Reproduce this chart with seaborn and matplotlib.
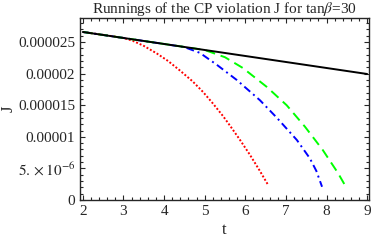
import numpy as np
import pandas as pd
import matplotlib
matplotlib.use("Agg")
import matplotlib.pyplot as plt
from matplotlib.ticker import AutoMinorLocator
import seaborn as sns

# values (J in units of 1e-5)
t_black = [2.0, 3.0, 4.0, 5.0, 6.0, 7.0, 8.0, 9.0]
J_black = [2.66, 2.565, 2.47, 2.375, 2.28, 2.185, 2.09, 1.995]

t_red = [2.0, 2.6, 3.0, 3.23, 3.5, 3.82, 4.1, 4.39, 4.7, 4.96, 5.2, 5.45, 5.62, 5.85, 6.11, 6.35, 6.56]
J_red = [2.66, 2.605, 2.565, 2.52, 2.44, 2.32, 2.20, 2.05, 1.88, 1.71, 1.53, 1.33, 1.18, 0.97, 0.72, 0.47, 0.24]

t_blue = [2.0, 3.0, 4.0, 4.5, 4.88, 5.3, 5.79, 6.36, 6.78, 7.27, 7.59, 7.75, 7.89]
J_blue = [2.66, 2.565, 2.47, 2.42, 2.33, 2.14, 1.90, 1.58, 1.30, 0.95, 0.66, 0.46, 0.21]

t_green = [2.0, 3.0, 4.0, 5.0, 5.37, 5.5, 5.94, 6.53, 7.02, 7.47, 7.91, 8.28, 8.45]
J_green = [2.66, 2.565, 2.47, 2.375, 2.29, 2.26, 2.09, 1.79, 1.50, 1.16, 0.79, 0.43, 0.24]

yticks = [0, 5e-6, 1e-5, 1.5e-5, 2e-5, 2.5e-5]
ytick_labels = ["0", r"$5.\times10^{-6}$", "0.00001", "0.000015", "0.00002", "0.000025"]
xticks = [2, 3, 4, 5, 6, 7, 8, 9]

sns.set_style("ticks")
plt.rcParams["font.family"] = ["Liberation Serif", "DejaVu Serif"]
plt.rcParams["mathtext.fontset"] = "stix"

rows = []
for name, ts, js in [("red", t_red, J_red), ("blue", t_blue, J_blue),
                     ("green", t_green, J_green), ("black", t_black, J_black)]:
    for t, j in zip(ts, js):
        rows.append({"t": t, "J": j * 1e-5, "curve": name})
df = pd.DataFrame(rows)

fig = plt.figure(figsize=(3.74, 2.41), dpi=100)
ax = fig.add_axes([0.214, 0.170, 0.773, 0.755])

palette = {"red": "#ff0000", "blue": "#0000ff", "green": "#00ff00", "black": "black"}
dashes = {"red": (1, 1), "blue": (4, 2, 1, 2), "green": (5, 3), "black": ""}
sns.lineplot(data=df, x="t", y="J", hue="curve", style="curve",
             palette=palette, dashes=dashes, ax=ax, lw=1.4,
             legend=False, sort=False, estimator=None)

ax.set_xlim(1.93, 9.05)
ax.set_ylim(0, 2.88e-5)
ax.set_xticks(xticks)
ax.set_yticks(yticks)
ax.set_yticklabels(ytick_labels)
ax.xaxis.set_minor_locator(AutoMinorLocator(5))
ax.yaxis.set_minor_locator(AutoMinorLocator(5))
ax.tick_params(which="both", direction="in", top=True, right=True, labelsize=11, width=0.8)
ax.tick_params(which="major", length=3.5)
ax.tick_params(which="minor", length=2)
for s in ax.spines.values():
    s.set_linewidth(1.0)

ax.set_xlabel("t", fontsize=12, labelpad=3)
ax.set_ylabel("J", fontsize=12, labelpad=1)
ax.set_title(r"Runnings of the CP violation J for tan$\beta$=30", fontsize=11, pad=3)

fig.savefig("out.png", dpi=100)
